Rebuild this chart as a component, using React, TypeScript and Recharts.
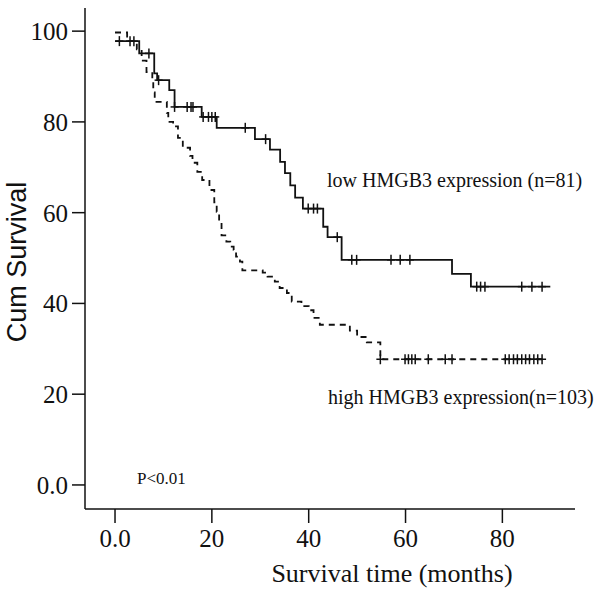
import { ComposedChart, Line, Scatter, XAxis, YAxis, Label } from 'recharts';

// Kaplan-Meier step points (months, cumulative survival %)
const lowSteps = [
  { t: 0, S: 97.8 }, { t: 5, S: 95.1 }, { t: 8.1, S: 90.7 }, { t: 8.7, S: 89.2 },
  { t: 11.2, S: 87 }, { t: 12.3, S: 83.3 }, { t: 17.9, S: 81.1 }, { t: 21, S: 78.7 },
  { t: 28.9, S: 76.2 }, { t: 32, S: 73.9 }, { t: 34.1, S: 71.2 }, { t: 35.1, S: 68.7 },
  { t: 36.2, S: 66 }, { t: 37.2, S: 63.3 }, { t: 38.8, S: 60.9 }, { t: 43, S: 56.9 },
  { t: 43.9, S: 54.6 }, { t: 46.8, S: 49.6 }, { t: 69.6, S: 46.5 }, { t: 73.5, S: 43.7 },
  { t: 89.9, S: 43.7 },
];

const highSteps = [
  { t: 0, S: 99.7 }, { t: 2.5, S: 97.8 }, { t: 4.5, S: 96 }, { t: 5.5, S: 93.5 },
  { t: 6.5, S: 91 }, { t: 7.7, S: 89 }, { t: 7.9, S: 86.5 }, { t: 8.2, S: 84.4 },
  { t: 10.7, S: 82 }, { t: 11, S: 80 }, { t: 12, S: 79 }, { t: 13, S: 76.5 },
  { t: 14, S: 74.3 }, { t: 15.5, S: 72.5 }, { t: 16, S: 71 }, { t: 17, S: 69 },
  { t: 18, S: 67.2 }, { t: 19.5, S: 65 }, { t: 20.5, S: 62.3 }, { t: 21, S: 60.2 },
  { t: 21.5, S: 58 }, { t: 22, S: 55 }, { t: 23, S: 53.6 }, { t: 23.8, S: 52.5 },
  { t: 24.5, S: 51.8 }, { t: 25, S: 50.3 }, { t: 25.8, S: 49.2 }, { t: 26.3, S: 47.3 },
  { t: 30.5, S: 46.8 }, { t: 31.5, S: 45.9 }, { t: 33, S: 44.8 }, { t: 34, S: 43.4 },
  { t: 35.5, S: 42.3 }, { t: 36.5, S: 40.4 }, { t: 38.5, S: 39.4 }, { t: 40, S: 38.5 },
  { t: 41, S: 36.8 }, { t: 42.3, S: 35.3 }, { t: 48.5, S: 34 }, { t: 50, S: 32.6 },
  { t: 52, S: 31.4 }, { t: 54.8, S: 27.7 }, { t: 89, S: 27.7 },
];

// censored observations (months)
const lowCensored = [
  0.9, 3.1, 3.9, 7, 9, 12.3, 14.9, 15.7, 16.1, 18.2, 19.3, 20, 20.7, 26.9, 31.1,
  39.9, 41, 41.8, 45.9, 48.9, 49.9, 57, 58.9, 60.9, 74.7, 75.5, 76.4, 84, 86.1, 88.2,
];
const highCensored = [
  54.8, 59.9, 60.6, 61.3, 62, 64.7, 68.2, 69.6, 80.6, 81.4, 82.3, 83.1, 84, 84.8,
  85.6, 86.5, 87.3, 88.2,
];

const xTicks = [0, 20, 40, 60, 80];
const yTicks = [0, 20, 40, 60, 80, 100];

const survivalAt = (steps: { t: number; S: number }[], t: number) => {
  let s = steps[0].S;
  for (const p of steps) if (p.t <= t) s = p.S;
  return s;
};

const lowMarks = lowCensored.map((t) => ({ t, S: survivalAt(lowSteps, t) }));
const highMarks = highCensored.map((t) => ({ t, S: survivalAt(highSteps, t) }));

const INK = '#111';
const serif = '"Liberation Serif", "Times New Roman", serif';

const fmt = (v: number) => (v === 0 ? '0.0' : String(v));

function Cross(props: any) {
  const { cx, cy } = props;
  if (cx == null || cy == null) return null;
  return (
    <g stroke={INK} strokeWidth={1.5}>
      <line x1={cx} x2={cx} y1={cy - 5} y2={cy + 5} />
      <line x1={cx - 4} x2={cx + 4} y1={cy} y2={cy} />
    </g>
  );
}

export default function App() {
  return (
    <div style={{ position: 'absolute', left: 0, top: 0, width: 600, height: 590, background: '#fff' }}>
      <ComposedChart width={600} height={590} margin={{ top: 8, right: 25, bottom: 0, left: 0 }}>
        <XAxis
          type="number"
          dataKey="t"
          domain={[-6.2, 95]}
          ticks={xTicks}
          tickFormatter={fmt}
          height={81}
          tickSize={14}
          tickMargin={6}
          stroke={INK}
          strokeWidth={1.5}
          allowDataOverflow
          tick={{ fill: INK, fontSize: 25, fontFamily: serif }}
        >
          <Label
            content={() => (
              <text x={392} y={582} textAnchor="middle" fill={INK} fontSize={26} fontFamily={serif}>
                Survival time (months)
              </text>
            )}
          />
        </XAxis>
        <YAxis
          type="number"
          domain={[-5.3, 105.1]}
          ticks={yTicks}
          tickFormatter={fmt}
          width={85}
          tickSize={13}
          tickMargin={4}
          stroke={INK}
          strokeWidth={1.5}
          allowDataOverflow
          tick={{ fill: INK, fontSize: 25, fontFamily: serif }}
        >
          <Label
            content={() => (
              <text
                x={26}
                y={262}
                transform="rotate(-90 26 262)"
                textAnchor="middle"
                fill={INK}
                fontSize={27}
                fontFamily='"Liberation Sans", Arial, sans-serif'
              >
                Cum Survival
              </text>
            )}
          />
        </YAxis>
        <Line
          data={highSteps}
          dataKey="S"
          type="stepAfter"
          stroke={INK}
          strokeWidth={1.8}
          strokeDasharray="6 5"
          dot={false}
          isAnimationActive={false}
        />
        <Line
          data={lowSteps}
          dataKey="S"
          type="stepAfter"
          stroke={INK}
          strokeWidth={1.8}
          dot={false}
          isAnimationActive={false}
        />
        <Scatter data={lowMarks} dataKey="S" shape={<Cross />} isAnimationActive={false} />
        <Scatter data={highMarks} dataKey="S" shape={<Cross />} isAnimationActive={false} />
      </ComposedChart>
      <svg width={600} height={590} style={{ position: 'absolute', left: 0, top: 0, pointerEvents: 'none' }}>
        <text x={327} y={187} fill={INK} fontSize={20} fontFamily={serif}>
          low HMGB3 expression (n=81)
        </text>
        <text x={328} y={404} fill={INK} fontSize={20} fontFamily={serif}>
          high HMGB3 expression(n=103)
        </text>
        <text x={137} y={484} fill={INK} fontSize={17} fontFamily={serif}>
          P&lt;0.01
        </text>
      </svg>
    </div>
  );
}
